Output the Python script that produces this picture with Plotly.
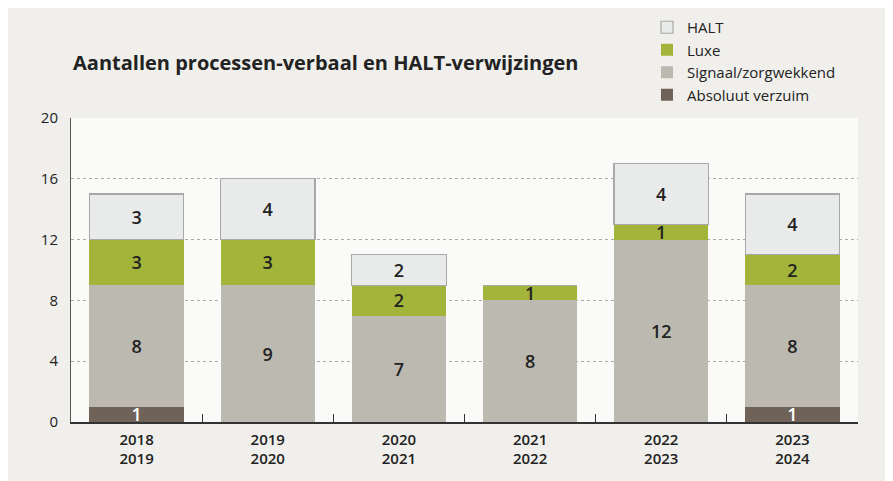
import plotly.graph_objects as go

categories = ["2018<br>2019", "2019<br>2020", "2020<br>2021", "2021<br>2022", "2022<br>2023", "2023<br>2024"]
absoluut = [1, 0, 0, 0, 0, 1]
signaal = [8, 9, 7, 8, 12, 8]
luxe = [3, 3, 2, 1, 1, 2]
halt = [3, 4, 2, 0, 4, 4]
y_ticks = [0, 4, 8, 12, 16, 20]

FONT = "Open Sans"
PH = 304.0  # plot height px
PW = 787.0  # plot width px
OX, OY = 8, 8  # page offset of the figure

def labels(vals):
    return [str(v) if v else "" for v in vals]

fig = go.Figure()
series = [
    ("Absoluut verzuim", absoluut, "#6e6259", "#6e6259", 0, "white"),
    ("Signaal/zorgwekkend", signaal, "#bcb9b1", "#bcb9b1", 0, "#222"),
    ("Luxe", luxe, "#a3b43a", "#a3b43a", 0, "#222"),
    ("HALT", halt, "#e9eaea", "#a8a8a8", 1.2, "#222"),
]
for name, vals, fill, line, lw, tc in series:
    fig.add_trace(go.Bar(
        x=categories, y=vals, name=name,
        marker=dict(color=fill, line=dict(color=line, width=lw)),
        text=labels(vals), textposition="inside", insidetextanchor="middle",
        textangle=0,
        textfont=dict(family=FONT, size=18, color=tc, weight=600),
        hoverinfo="skip",
    ))

fig.update_layout(
    barmode="stack", bargap=0.28,
    width=885, height=473,
    margin=dict(l=71 - OX, r=35, t=118 - OY, b=59, autoexpand=False),
    paper_bgcolor="#f0efeb", plot_bgcolor="#fafaf8",
    font=dict(family=FONT, size=14, color="#222"),
    uniformtext=dict(minsize=18, mode="show"),
    showlegend=True,
    legend=dict(
        x=(647 - 71) / PW, xanchor="left", y=(422 - 11) / PH, yanchor="top",
        traceorder="reversed", bgcolor="rgba(0,0,0,0)",
        font=dict(family=FONT, size=15, color="#222"),
        itemwidth=30, tracegroupgap=0,
    ),
    annotations=[dict(
        text="<b>Aantallen processen-verbaal en HALT-verwijzingen</b>",
        xref="paper", yref="paper", x=0.0, y=(422 - 63) / PH,
        xanchor="left", yanchor="middle", showarrow=False,
        font=dict(family=FONT, size=20, color="#222"),
    )],
)
fig.update_xaxes(
    showline=True, linecolor="#333", linewidth=1.5,
    ticks="inside", ticklen=8, tickcolor="#333", tickson="boundaries",
    tickfont=dict(family=FONT, size=15, color="#222", weight=600),
    ticklabelstandoff=3,
    showgrid=False,
)
fig.update_yaxes(
    range=[0, 20], tickvals=y_ticks,
    showline=True, linecolor="#555", linewidth=1,
    showgrid=True, gridcolor="#aaaaaa", griddash="dot", gridwidth=1,
    zeroline=False, ticks="", ticklabelstandoff=9,
    tickfont=dict(family=FONT, size=15, color="#222"),
)
fig.write_html("out.html")
